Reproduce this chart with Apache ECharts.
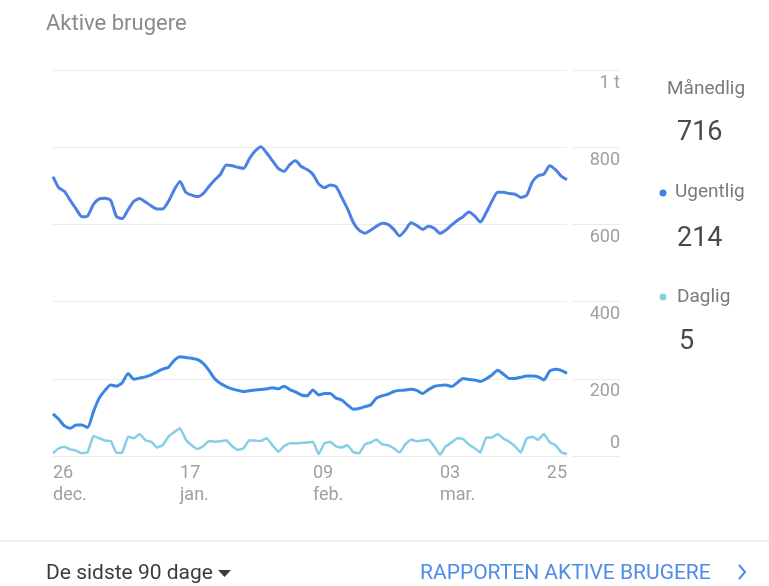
<!DOCTYPE html>
<html>
<head>
<meta charset="utf-8">
<script src="https://cdn.jsdelivr.net/npm/echarts@6/dist/echarts.min.js"></script>
<style>
html,body{margin:0;padding:0;background:#fff;}
#c{width:769px;height:586px;}
</style>
</head>
<body>
<div id="c"></div>
<script>
// ---- data ----
const monthLengths = [['dec.', 26, 31], ['jan.', 1, 31], ['feb.', 1, 28], ['mar.', 1, 25]];
const categories = [];
monthLengths.forEach(function (m) { for (let d = m[1]; d <= m[2]; d++) categories.push((d < 10 ? '0' : '') + d + ' ' + m[0]); });

const tickLabels = { 0: '26\ndec.', 22: '17\njan.', 45: '09\nfeb.', 67: '03\nmar.', 89: '25' };
const yTicks = [0, 200, 400, 600, 800, 1000];

const monthly = [724,695,685,662,640,620,622,652,666,668,662,620,615,638,660,667,658,648,640,640,
  660,690,711,683,676,672,680,698,715,730,754,752,748,745,770,790,801,785,765,745,
  737,755,765,750,742,730,705,695,702,698,670,640,605,585,577,585,595,603,600,587,
  570,585,604,597,587,595,590,577,585,598,610,620,632,622,606,630,660,683,683,680,
  678,670,675,710,726,730,752,742,725,716];
const weekly = [109,95,78,72,80,80,74,115,150,170,184,181,190,214,199,202,205,210,218,225,
  230,248,257,255,253,250,240,222,200,188,180,174,170,167,169,171,172,174,177,174,
  181,172,166,158,156,171,158,162,162,150,145,132,121,123,128,132,150,156,160,167,
  170,171,173,170,162,172,180,183,184,180,190,201,198,197,193,200,210,222,212,201,
  201,204,207,207,205,197,220,225,222,214];
const daily = [7,20,24,17,14,7,10,52,46,40,39,8,9,50,46,57,41,37,22,28,
  50,62,72,42,28,18,25,39,37,38,41,26,16,20,41,40,39,46,28,11,
  25,33,33,34,35,37,5,33,37,25,22,28,10,7,30,35,43,30,28,20,
  9,30,43,38,40,43,25,3,25,35,46,44,30,20,9,48,48,57,45,37,
  25,9,45,50,42,57,36,28,10,5];

const seriesNames = ['Månedlig', 'Ugentlig', 'Daglig'];
const seriesColors = ['#4c80e4', '#3a86e3', '#86cde6'];

// ---- chart ----
const chart = echarts.init(document.getElementById('c'), null, { renderer: 'canvas' });
const FONT = 'Roboto, "Noto Sans", sans-serif';

function yFmt(v) {
  if (v === 0) return '{z|0}';
  return '{a|' + (v === 1000 ? '1 t' : v) + '}';
}

const yCommon = {
  type: 'value', min: 0, max: 1000, interval: 200,
  splitLine: { show: true, lineStyle: { color: '#ececec', width: 1 } },
  axisLine: { show: false }, axisTick: { show: false }
};

const option = {
  animation: false,
  backgroundColor: '#fff',
  textStyle: { fontFamily: FONT },
  title: {
    text: 'Aktive brugere', left: 41, top: 8, padding: 5,
    textStyle: { fontFamily: FONT, fontSize: 22, fontWeight: 'normal', color: '#8a8a8a' }
  },
  grid: [
    { left: 53, right: 202, top: 70, bottom: 130 },
    { left: 572, right: 149, top: 70, bottom: 130 }
  ],
  xAxis: [
    {
      type: 'category', gridIndex: 0, data: categories, boundaryGap: false,
      axisLine: { show: false }, axisTick: { show: false },
      axisLabel: {
        interval: function (i) { return tickLabels[i] !== undefined; },
        formatter: function (v, i) { return tickLabels[i] || ''; },
        align: 'left', alignMaxLabel: 'right',
        margin: 6, fontSize: 18, lineHeight: 22, color: '#a0a0a0', fontFamily: FONT
      }
    },
    { type: 'value', gridIndex: 1, min: 0, max: 1, show: false }
  ],
  yAxis: [
    Object.assign({}, yCommon, {
      gridIndex: 0, position: 'right',
      axisLabel: {
        show: true, align: 'right', margin: 53, formatter: yFmt,
        color: '#a0a0a0', fontSize: 18, fontFamily: FONT,
        rich: {
          a: { fontSize: 18, color: '#a0a0a0', fontFamily: FONT, padding: [26, 0, 0, 0] },
          z: { fontSize: 18, color: '#a0a0a0', fontFamily: FONT, padding: [0, 0, 26, 0] }
        }
      }
    }),
    Object.assign({}, yCommon, { gridIndex: 1, axisLabel: { show: false } })
  ],
  series: [
    { name: seriesNames[0], type: 'line', data: monthly, xAxisIndex: 0, yAxisIndex: 0, symbol: 'none', smooth: 0.2, lineStyle: { width: 3, color: seriesColors[0] }, itemStyle: { color: seriesColors[0] } },
    { name: seriesNames[1], type: 'line', data: weekly, xAxisIndex: 0, yAxisIndex: 0, symbol: 'none', smooth: 0.2, lineStyle: { width: 3, color: seriesColors[1] }, itemStyle: { color: seriesColors[1] } },
    { name: seriesNames[2], type: 'line', data: daily, xAxisIndex: 0, yAxisIndex: 0, symbol: 'none', smooth: 0.1, lineStyle: { width: 2.5, color: seriesColors[2] }, itemStyle: { color: seriesColors[2] } }
  ],
  graphic: [
    { type: 'text', left: 667, top: 80, style: { text: seriesNames[0], font: '19px ' + FONT, fill: '#7a7a7a' } },
    { type: 'text', left: 677, top: 120, style: { text: String(monthly[monthly.length - 1]), font: '27px ' + FONT, fill: '#4a4a4a' } },
    { type: 'circle', shape: { cx: 663, cy: 193, r: 3.5 }, style: { fill: seriesColors[1] } },
    { type: 'text', left: 675, top: 183, style: { text: seriesNames[1], font: '19px ' + FONT, fill: '#7a7a7a' } },
    { type: 'text', left: 677, top: 226, style: { text: String(weekly[weekly.length - 1]), font: '27px ' + FONT, fill: '#4a4a4a' } },
    { type: 'circle', shape: { cx: 663, cy: 297, r: 3.5 }, style: { fill: seriesColors[2] } },
    { type: 'text', left: 677, top: 288, style: { text: seriesNames[2], font: '19px ' + FONT, fill: '#7a7a7a' } },
    { type: 'text', left: 679, top: 329, style: { text: String(daily[daily.length - 1]), font: '27px ' + FONT, fill: '#4a4a4a' } },
    { type: 'line', shape: { x1: 0, y1: 541, x2: 769, y2: 541 }, style: { stroke: '#e3e3e3', lineWidth: 1 } },
    { type: 'text', left: 46, top: 563, style: { text: 'De sidste 90 dage', font: '21px ' + FONT, fill: '#3c3c3c' } },
    { type: 'polygon', shape: { points: [[218, 570], [231, 570], [224.5, 577]] }, style: { fill: '#3c3c3c' } },
    { type: 'text', left: 420, top: 563, style: { text: 'RAPPORTEN AKTIVE BRUGERE', font: '21px ' + FONT, fill: '#4f8be8' } },
    { type: 'polyline', shape: { points: [[739, 565], [745, 572], [739, 579]] }, style: { stroke: '#4f8be8', lineWidth: 2, fill: null } }
  ]
};
chart.setOption(option);
</script>
</body>
</html>
